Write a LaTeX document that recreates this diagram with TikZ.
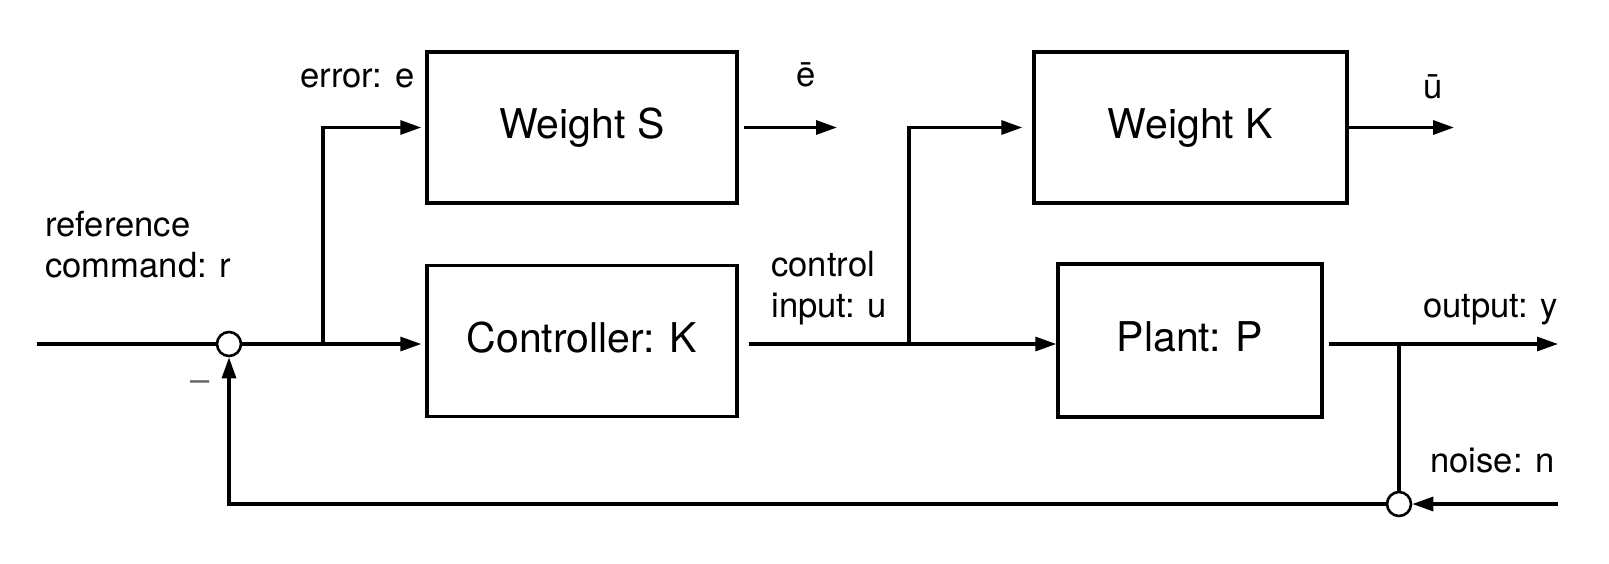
\documentclass[tikz,border=0pt]{standalone}
\usepackage{fontspec}
\setmainfont{TeX Gyre Heros}
\usetikzlibrary{arrows.meta,calc}
\begin{document}
\begin{tikzpicture}[x=0.5pt,y=-0.5pt]
\tikzset{
 blk/.style={draw, line width=1.7pt, minimum height=75.5pt, inner sep=0pt, text height=15pt, text depth=4pt, font=\fontsize{20.5}{24}\selectfont},
 wire/.style={line width=1.6pt},
 arr/.style={wire, -{Triangle[length=10.5pt,width=7pt]}},
 junc/.style={circle, draw, fill=white, line width=1.3pt, minimum size=12pt, inner sep=0pt},
 lbl/.style={inner sep=0pt, font=\fontsize{17.3}{20.5}\selectfont, align=left, anchor=base west}
}
\useasboundingbox (0,0) rectangle (1609,563);
% blocks
\node[blk, minimum width=155pt] (ws) at (582,127.5) {Weight S};
\node[blk, minimum width=155pt] (ctrl) at (582,341) {Controller: K};
\node[blk, minimum width=156.5pt] (wk) at (1190.5,127.5) {Weight K};
\node[blk, minimum width=132pt, minimum height=76.5pt] (plant) at (1190,340.5) {Plant: P};
% junctions
\node[junc] (sum) at (229,344) {};
\node[junc] (n2) at (1399,504) {};
% coordinates
\coordinate (in) at (37,344);
\coordinate (b1) at (323,344);
\coordinate (wsout) at ($(ws.east)+(5,0)$);
\coordinate (ebar) at (837,127.5);
\coordinate (cout) at ($(ctrl.east |- sum)+(10,0)$);
\coordinate (b2) at (909,344);
\coordinate (wkin) at ($(wk.west)+(-10,0)$);
\coordinate (ubar) at (1454,127.5);
\coordinate (pout) at ($(plant.east |- sum)+(5,0)$);
\coordinate (b3) at (1399,344);
\coordinate (yout) at (1558,344);
\coordinate (nin) at (1558,504);
\coordinate (fb) at (229,504);
% connectors
\draw[wire] (in) -- (sum);
\draw[arr] (sum) -- ($(sum -| ctrl.west)+(-4,0)$);
\draw[arr] (b1) |- ($(ws.west)+(-4,0)$);
\draw[arr] (wsout) -- (ebar);
\draw[arr] (cout) -- (cout -| plant.west);
\draw[arr] (b2) |- (wkin);
\draw[arr] (wk.east) -- (ubar);
\draw[arr] (pout) -- (yout);
\draw[wire] (b3) -- (n2);
\draw[arr] (nin) -- (n2);
\draw[arr] (n2) -- (fb) -- (sum);
% labels
\node[lbl] (lerr) at (300,87) {error: e};
\node[lbl, anchor=base] (lebar) at (806,86) {ē};
\node[lbl, anchor=base] (lubar) at (1433,98) {ū};
\node[lbl] (lref) at (45,277) {reference\\command: r};
\node[lbl] (lu) at (771,317) {control\\input: u};
\node[lbl] (ly) at (1423,317) {output: y};
\node[lbl] (ln) at (1430,472) {noise: n};
\node[inner sep=0pt, font=\fontsize{17.3}{20.5}\selectfont, text=black!60] (lminus) at (200,386) {–};
\end{tikzpicture}
\end{document}
